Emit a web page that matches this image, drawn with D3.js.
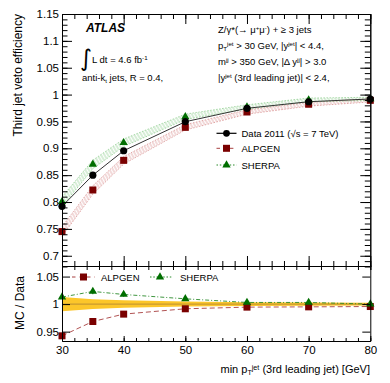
<!DOCTYPE html>
<html><head><meta charset="utf-8">
<script src="https://cdn.jsdelivr.net/npm/d3@7"></script>
<style>
body{margin:0;background:#fff;}
svg{display:block;font-family:"Liberation Sans",Arial,Helvetica,sans-serif;}
</style></head>
<body><svg id="c" width="390" height="383"></svg>
<script>
// ---- data ----
const ptMin = [30, 35, 40, 50, 60, 70, 80];
const dataEff   = [0.792, 0.850, 0.8955, 0.9495, 0.9745, 0.9867, 0.9918];
const alpgenEff = [0.745, 0.8224, 0.8776, 0.939, 0.9676, 0.982, 0.9893];
const sherpaEff = [0.8006, 0.870, 0.9104, 0.9586, 0.977, 0.990, 0.992];
const alpgenErr = [0.009, 0.008, 0.007, 0.005, 0.004, 0.0035, 0.003];
const sherpaErr = [0.009, 0.008, 0.007, 0.005, 0.004, 0.0035, 0.003];
const alpgenRatio = [0.9424, 0.9684, 0.9818, 0.9915, 0.9945, 0.995, 0.9956];
const sherpaRatio = [1.0127, 1.023, 1.0175, 1.0096, 1.003, 1.003, 1.000];
const alpgenRatioErr = [0.004, 0.005, 0.003, 0.002, 0.002, 0.002, 0.002];
const sherpaRatioErr = [0.003, 0.005, 0.004, 0.003, 0.002, 0.002, 0.002];
const dataRelErr = [0.0128, 0.009, 0.0068, 0.0045, 0.0033, 0.0028, 0.0025];
const xTicks = [30, 40, 50, 60, 70, 80];
const yMainTicks = [0.7, 0.75, 0.8, 0.85, 0.9, 0.95, 1, 1.05, 1.1, 1.15];
const yRatioTicks = [0.95, 1, 1.05];

const svg = d3.select("#c");
const x = d3.scaleLinear().domain([30, 80]).range([62, 370.3]);
const yM = d3.scaleLinear().domain([0.68, 1.15]).range([266.5, 14]);
const yR = d3.scaleLinear().domain([0.933, 1.071]).range([341, 265]);

const cRed = "#7a0000", cGreen = "#006e00";
const fmt = d => String(+(+d).toFixed(2));

// patterns
const defs = svg.append("defs");
function hatch(id, col) {
  const p = defs.append("pattern").attr("id", id).attr("patternUnits", "userSpaceOnUse")
    .attr("width", 3).attr("height", 3).attr("patternTransform", "rotate(-30)");
  p.append("line").attr("x1", 1).attr("y1", 0).attr("x2", 1).attr("y2", 3)
    .attr("stroke", col).attr("stroke-width", 0.8);
}
hatch("hR", "#d07878");
hatch("hG", "#70c070");

const idx = d3.range(ptMin.length);

// ---- main panel bands ----
function band(vals, errs, pat, edge) {
  const a = d3.area().x(i => x(ptMin[i])).y0(i => yM(vals[i] - errs[i])).y1(i => yM(vals[i] + errs[i]));
  svg.append("path").attr("d", a(idx)).attr("fill", `url(#${pat})`).attr("opacity", 0.7);
  [1, -1].forEach(s => {
    svg.append("path").attr("d", d3.line().x(i => x(ptMin[i])).y(i => yM(vals[i] + s * errs[i]))(idx))
      .attr("fill", "none").attr("stroke", edge).attr("stroke-width", 0.7).attr("stroke-dasharray", "1.5,1.5").attr("opacity", 0.7);
  });
}
band(alpgenEff, alpgenErr, "hR", "#c86060");
band(sherpaEff, sherpaErr, "hG", "#5cb85c");

// data line
svg.append("path").attr("d", d3.line().x(i => x(ptMin[i])).y(i => yM(dataEff[i]))(idx))
  .attr("fill", "none").attr("stroke", "#333").attr("stroke-width", 1);

// markers
const tri = d3.symbol().type(d3.symbolTriangle).size(30);
svg.selectAll(".as").data(idx).join("rect")
  .attr("x", i => x(ptMin[i]) - 3.5).attr("y", i => yM(alpgenEff[i]) - 3.5)
  .attr("width", 7).attr("height", 7).attr("fill", cRed);
svg.selectAll(".st").data(idx).join("path").attr("d", tri)
  .attr("transform", i => `translate(${x(ptMin[i])},${yM(sherpaEff[i])})`).attr("fill", cGreen);
svg.selectAll(".dc").data(idx).join("circle")
  .attr("cx", i => x(ptMin[i])).attr("cy", i => yM(dataEff[i])).attr("r", 3.6).attr("fill", "#000");

// ---- ratio panel ----
const bandR = d3.area().x(i => x(ptMin[i])).y0(i => yR(1 - dataRelErr[i])).y1(i => yR(1 + dataRelErr[i]));
svg.append("path").attr("d", bandR(idx)).attr("fill", "#fcc62a");
svg.append("line").attr("x1", x(30)).attr("x2", x(80)).attr("y1", yR(1)).attr("y2", yR(1))
  .attr("stroke", "#c89a30").attr("stroke-width", 1.3);

svg.append("path").attr("d", d3.line().x(i => x(ptMin[i])).y(i => yR(alpgenRatio[i]))(idx))
  .attr("fill", "none").attr("stroke", "#a84040").attr("stroke-width", 0.9).attr("stroke-dasharray", "5,3");
svg.append("path").attr("d", d3.line().x(i => x(ptMin[i])).y(i => yR(sherpaRatio[i]))(idx))
  .attr("fill", "none").attr("stroke", "#2a8a2a").attr("stroke-width", 0.9).attr("stroke-dasharray", "4,2,1,2");
// error bars
[[alpgenRatio, alpgenRatioErr, cRed], [sherpaRatio, sherpaRatioErr, cGreen]].forEach(([v, e, c]) => {
  svg.selectAll(null).data(idx).join("line")
    .attr("x1", i => x(ptMin[i])).attr("x2", i => x(ptMin[i]))
    .attr("y1", i => yR(v[i] - e[i])).attr("y2", i => yR(v[i] + e[i]))
    .attr("stroke", c).attr("stroke-width", 1);
});
svg.selectAll(".ras").data(idx).join("rect")
  .attr("x", i => x(ptMin[i]) - 3.5).attr("y", i => yR(alpgenRatio[i]) - 3.5)
  .attr("width", 7).attr("height", 7).attr("fill", cRed);
svg.selectAll(".rst").data(idx).join("path").attr("d", tri)
  .attr("transform", i => `translate(${x(ptMin[i])},${yR(sherpaRatio[i])})`).attr("fill", cGreen);

// ---- axes ----
function axis(gen, scale, ticks, len, fmtF, tx, ty, fs) {
  const g = svg.append("g").attr("transform", `translate(${tx},${ty})`)
    .call(gen(scale).tickValues(ticks).tickSizeInner(len).tickSizeOuter(0).tickPadding(3).tickFormat(fmtF));
  g.selectAll("text").attr("font-size", fs || 11.5).attr("fill", "#000").attr("font-family", "Liberation Sans, Arial, sans-serif");
  g.selectAll("line").attr("stroke", "#000");
  g.select(".domain").attr("stroke", "#000");
  return g;
}
const xMinor = d3.range(30, 80.1, 2);
const yMainMinor = d3.range(68, 115.1, 1).map(v => v / 100);
const none = () => "";
// main panel
axis(d3.axisLeft, yM, yMainTicks, -10, fmt, 62, 0);
axis(d3.axisLeft, yM, yMainMinor, -5.5, none, 62, 0);
axis(d3.axisRight, yM, yMainTicks, -10, none, 370.3, 0);
axis(d3.axisRight, yM, yMainMinor, -5.5, none, 370.3, 0);
axis(d3.axisTop, x, xTicks, -10, none, 0, 14);
axis(d3.axisTop, x, xMinor, -5, none, 0, 14);
axis(d3.axisBottom, x, xTicks, -10, none, 0, 266);
axis(d3.axisBottom, x, xMinor, -5, none, 0, 266);
// ratio panel
axis(d3.axisLeft, yR, yRatioTicks, -8, fmt, 62, 0);
axis(d3.axisRight, yR, yRatioTicks, -8, none, 370.3, 0);
axis(d3.axisTop, x, xTicks, -4, none, 0, 266);
axis(d3.axisTop, x, xMinor, -4, none, 0, 266);
const bx = axis(d3.axisBottom, x, xTicks, -5, d => d, 0, 341);
bx.selectAll("text").attr("dy", "0.9em").attr("y", 3);
axis(d3.axisBottom, x, xMinor, -3, none, 0, 341);

// ---- texts ----
function txt(xp, yp, fs, extra) {
  const t = svg.append("text").attr("x", xp).attr("y", yp).attr("font-size", fs).attr("fill", "#000");
  if (extra) extra(t);
  return t;
}
function rich(t, parts) {
  parts.forEach(p => {
    const s = t.append("tspan").text(p[0]);
    if (p[1] === "sup") s.attr("baseline-shift", "45%").attr("font-size", "65%");
    if (p[1] === "sub") s.attr("baseline-shift", "-30%").attr("font-size", "65%");
  });
}
txt(86, 31.7, 12).attr("font-weight", "bold").attr("font-style", "italic").text("ATLAS");
txt(80, 66, 23).attr("font-family", "DejaVu Sans").text("∫");
rich(txt(92, 62.7, 9.5), [["L dt = 4.6 fb"], ["-1", "sup"]]);
rich(txt(82, 81, 9.5), [["anti-k"], ["t", "sub"], [" jets, R = 0.4,"]]);

rich(txt(218, 33, 9.5), [["Z/γ*(→ μ"], ["+", "sup"], ["μ"], ["-", "sup"], [") + ≥ 3 jets"]]);
rich(txt(218, 49, 9.5), [["p"], ["T", "sub"], ["jet", "sup"], [" > 30 GeV, |y"], ["jet", "sup"], ["| < 4.4,"]]);
rich(txt(218, 64.5, 9.5), [["m"], ["jj", "sup"], [" > 350 GeV, |Δ y"], ["jj", "sup"], ["| > 3.0"]]);
rich(txt(218, 81, 9.5), [["|y"], ["jet", "sup"], [" (3rd leading jet)| < 2.4,"]]);

// legend main
const legY = [133.3, 148.3, 165];
svg.append("line").attr("x1", 216.5).attr("x2", 236.5).attr("y1", legY[0]).attr("y2", legY[0]).attr("stroke", "#000").attr("stroke-width", 1.2);
svg.append("circle").attr("cx", 226.5).attr("cy", legY[0]).attr("r", 3.4).attr("fill", "#000");
svg.append("line").attr("x1", 216.5).attr("x2", 236.5).attr("y1", legY[1]).attr("y2", legY[1]).attr("stroke", "#a84040").attr("stroke-width", 1).attr("stroke-dasharray", "3.5,3.2");
svg.append("rect").attr("x", 223).attr("y", legY[1] - 3.5).attr("width", 7).attr("height", 7).attr("fill", cRed);
svg.append("line").attr("x1", 216.5).attr("x2", 236.5).attr("y1", legY[2]).attr("y2", legY[2]).attr("stroke", "#2a8a2a").attr("stroke-width", 1).attr("stroke-dasharray", "1.5,1.8");
svg.append("path").attr("d", tri).attr("transform", `translate(226.5,${legY[2]})`).attr("fill", cGreen);
txt(241.5, legY[0] + 3.5, 9.5).text("Data 2011 (√s = 7 TeV)");
txt(241.5, legY[1] + 3.5, 9.5).text("ALPGEN");
txt(241.5, legY[2] + 3.5, 9.5).text("SHERPA");

// legend ratio
const rl = 277;
svg.append("line").attr("x1", 72).attr("x2", 95).attr("y1", rl).attr("y2", rl).attr("stroke", "#a84040").attr("stroke-width", 1).attr("stroke-dasharray", "3.5,4");
svg.append("rect").attr("x", 80).attr("y", rl - 3.5).attr("width", 7).attr("height", 7).attr("fill", cRed);
svg.append("line").attr("x1", 150).attr("x2", 172).attr("y1", rl).attr("y2", rl).attr("stroke", "#2a8a2a").attr("stroke-width", 1).attr("stroke-dasharray", "1.5,1.8");
svg.append("path").attr("d", tri).attr("transform", `translate(160,${rl})`).attr("fill", cGreen);
txt(101, rl + 3.5, 9.5).text("ALPGEN");
txt(180, rl + 3.5, 9.5).text("SHERPA");

// axis titles
txt(0, 0, 12).attr("transform", "translate(22,14) rotate(-90)").attr("text-anchor", "end").text("Third jet veto efficiency");
txt(0, 0, 12).attr("transform", "translate(24,303) rotate(-90)").attr("text-anchor", "middle").text("MC / Data");
rich(txt(370, 373, 11).attr("text-anchor", "end"), [["min p"], ["T", "sub"], ["jet", "sup"], [" (3rd leading jet) [GeV]"]]);
</script></body></html>
